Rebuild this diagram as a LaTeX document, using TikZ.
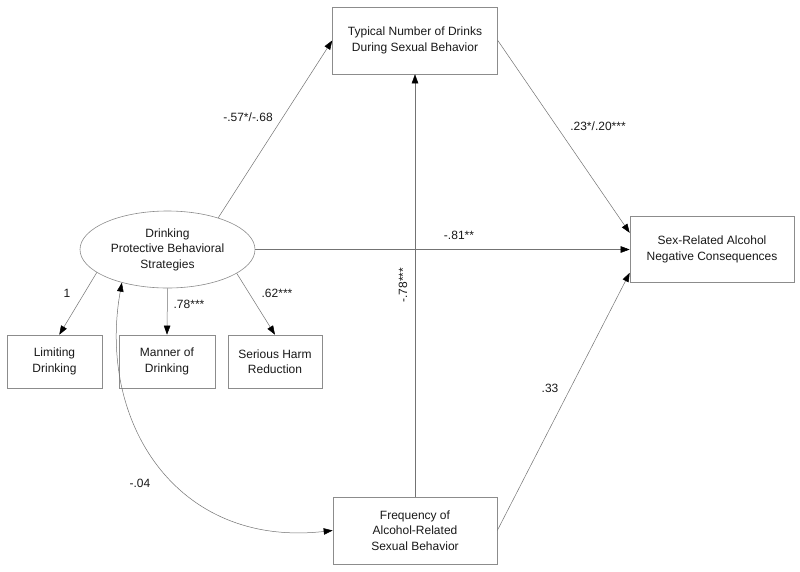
\documentclass[tikz,border=0pt]{standalone}
\usepackage{fontspec}
\setmainfont{Liberation Sans}
\usetikzlibrary{arrows.meta,shapes.geometric,calc}
\tikzset{
  box/.style={draw=black!45, line width=0.6pt, rectangle, inner sep=0pt, align=center, text=black!90},
  latent/.style={draw=black!45, line width=0.6pt, ellipse, inner sep=0pt, align=center, text=black!90, minimum width=175, minimum height=77},
  path/.style={draw=black!55, line width=0.5pt, -{Triangle[length=9pt,width=6.5pt,color=black]}},
  bipath/.style={draw=black!55, line width=0.5pt, {Triangle[length=9pt,width=6.5pt,color=black]}-{Triangle[length=9pt,width=6.5pt,color=black]}},
  lab/.style={inner sep=0pt, text=black!90}
}
\begin{document}
\begin{tikzpicture}[x=1pt,y=-1pt,font=\fontsize{12}{15.5}\selectfont]
\useasboundingbox[fill=white] (0,0) rectangle (800,571);
% nodes
\node[box, minimum width=165, minimum height=67] (typ) at (415,40.5) {Typical Number of Drinks\\During Sexual Behavior};
\node[box, minimum width=164, minimum height=66] (sex) at (712,249.5) {Sex-Related Alcohol\\Negative Consequences};
\node[latent] (ell) at (167.5,249.5) {Drinking\\Protective Behavioral\\Strategies};
\node[box, minimum width=95, minimum height=53] (lim) at (54.5,361.5) {Limiting\\Drinking};
\node[box, minimum width=96, minimum height=53] (man) at (167,361.5) {Manner of\\Drinking};
\node[box, minimum width=94, minimum height=53] (ser) at (275,361.5) {Serious Harm\\Reduction};
\node[box, minimum width=164, minimum height=67] (fre) at (415,530.5) {Frequency of\\Alcohol-Related\\Sexual Behavior};
% connectors
\draw[path] (ell.32) -- (typ.west);
\draw[path] (typ.east) -- ($(sex.north west)!0.25!(sex.south west)$);
\draw[path] (ell.east) -- (sex.west);
\draw[path] (fre.north) -- (typ.south);
\draw[path] (fre.east) -- ($(sex.north west)!0.85!(sex.south west)$);
\draw[path] (ell.198) -- ($(lim.north west)!0.55!(lim.north east)$);
\draw[path] (ell.south) -- (man.north);
\draw[path] (ell.341) -- (ser.north);
\draw[bipath] (ell.216) .. controls (97,420) and (175,548) .. (fre.west);
% labels
\node[lab] (l1) at (248,117) {-.57*/-.68};
\node[lab] (l2) at (598,126) {.23*/.20***};
\node[lab] (l3) at (459,235) {-.81**};
\node[lab, rotate=90] (l4) at (403,285) {-.78***};
\node[lab] (l5) at (67,293) {1};
\node[lab] (l6) at (189,304) {.78***};
\node[lab] (l7) at (277,293) {.62***};
\node[lab] (l8) at (140,483) {-.04};
\node[lab] (l9) at (550,388) {.33};
\end{tikzpicture}
\end{document}
